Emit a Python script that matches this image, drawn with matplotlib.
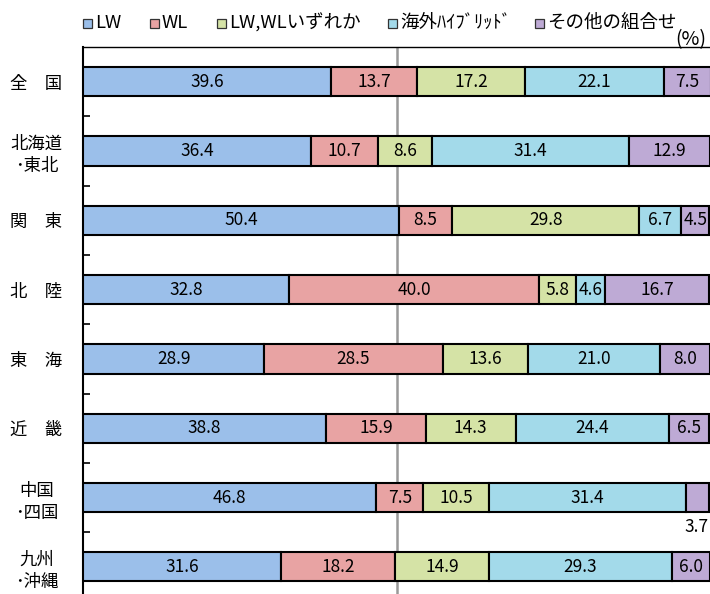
import numpy as np
import matplotlib
matplotlib.use("Agg")
import matplotlib.pyplot as plt
from matplotlib.patches import Rectangle

plt.rcParams['font.family'] = ['Noto Sans CJK JP', 'DejaVu Sans']

regions = ["全　国", "北海道\n･東北", "関　東", "北　陸", "東　海", "近　畿", "中国\n･四国", "九州\n･沖縄"]
series = ["LW", "WL", "LW,WLいずれか", "海外ﾊｲﾌﾞﾘｯﾄﾞ", "その他の組合せ"]
lw_vals = [39.6, 36.4, 50.4, 32.8, 28.9, 38.8, 46.8, 31.6]
wl_vals = [13.7, 10.7, 8.5, 40.0, 28.5, 15.9, 7.5, 18.2]
either_vals = [17.2, 8.6, 29.8, 5.8, 13.6, 14.3, 10.5, 14.9]
hybrid_vals = [22.1, 31.4, 6.7, 4.6, 21.0, 24.4, 31.4, 29.3]
other_vals = [7.5, 12.9, 4.5, 16.7, 8.0, 6.5, 3.7, 6.0]
colors = ['#9BBFEA', '#E8A3A3', '#D5E3A6', '#A3DAEA', '#BEAAD5']

W, H = 710, 594
fig = plt.figure(figsize=(W / 100, H / 100), dpi=100)
ax = fig.add_axes([83 / W, -0.0128, 627 / W, 0.9337])

y = np.arange(len(regions))
left = np.zeros(len(regions))
for vals, name, c in zip([lw_vals, wl_vals, either_vals, hybrid_vals, other_vals], series, colors):
    vals = np.array(vals)
    ax.barh(y, vals, left=left, height=0.42, color=c, edgecolor='black', linewidth=1.5, label=name, zorder=3)
    for i, v in enumerate(vals):
        cx = left[i] + v / 2
        if v < 4:
            # too narrow: put the value under the bar
            ax.text(100 - 0.3, y[i] + 0.42, f"{v:.1f}", ha='right', va='center', fontsize=12.5, zorder=4)
        else:
            ax.text(cx, y[i], f"{v:.1f}", ha='center', va='center', fontsize=12.5, zorder=4)
    left += vals

ax.axvline(50, color='#999999', linewidth=1.8, zorder=1)

ax.set_xlim(0, 100)
ax.set_ylim(len(regions) - 0.5, -0.5)
ax.set_xticks([])
ax.set_yticks(y)
ax.set_yticklabels(regions, fontsize=12.5, linespacing=1.3)
for lab in ax.get_yticklabels():
    lab.set_horizontalalignment('center')
ax.tick_params(axis='y', which='major', length=0, pad=33.5)
ax.set_yticks(np.arange(len(regions)) + 0.5, minor=True)
ax.tick_params(axis='y', which='minor', direction='in', length=5, width=1.2)
ax.spines['right'].set_visible(False)
ax.spines['bottom'].set_visible(False)
ax.spines['left'].set_linewidth(1.5)
ax.spines['top'].set_linewidth(1.0)

# legend row along the top
legend_x = [83, 150, 217, 388, 535]
for px, name, c in zip(legend_x, series, colors):
    fig.patches.append(Rectangle((px / W, 1 - 28 / H), 9 / W, 9 / H, transform=fig.transFigure,
                                 facecolor=c, edgecolor='#333333', linewidth=0.9))
    fig.text((px + 12) / W, 1 - 23 / H, name, ha='left', va='center', fontsize=13.3)
fig.text(706 / W, 1 - 40 / H, "(%)", ha='right', va='center', fontsize=14)

fig.savefig("out.png", dpi=100)
